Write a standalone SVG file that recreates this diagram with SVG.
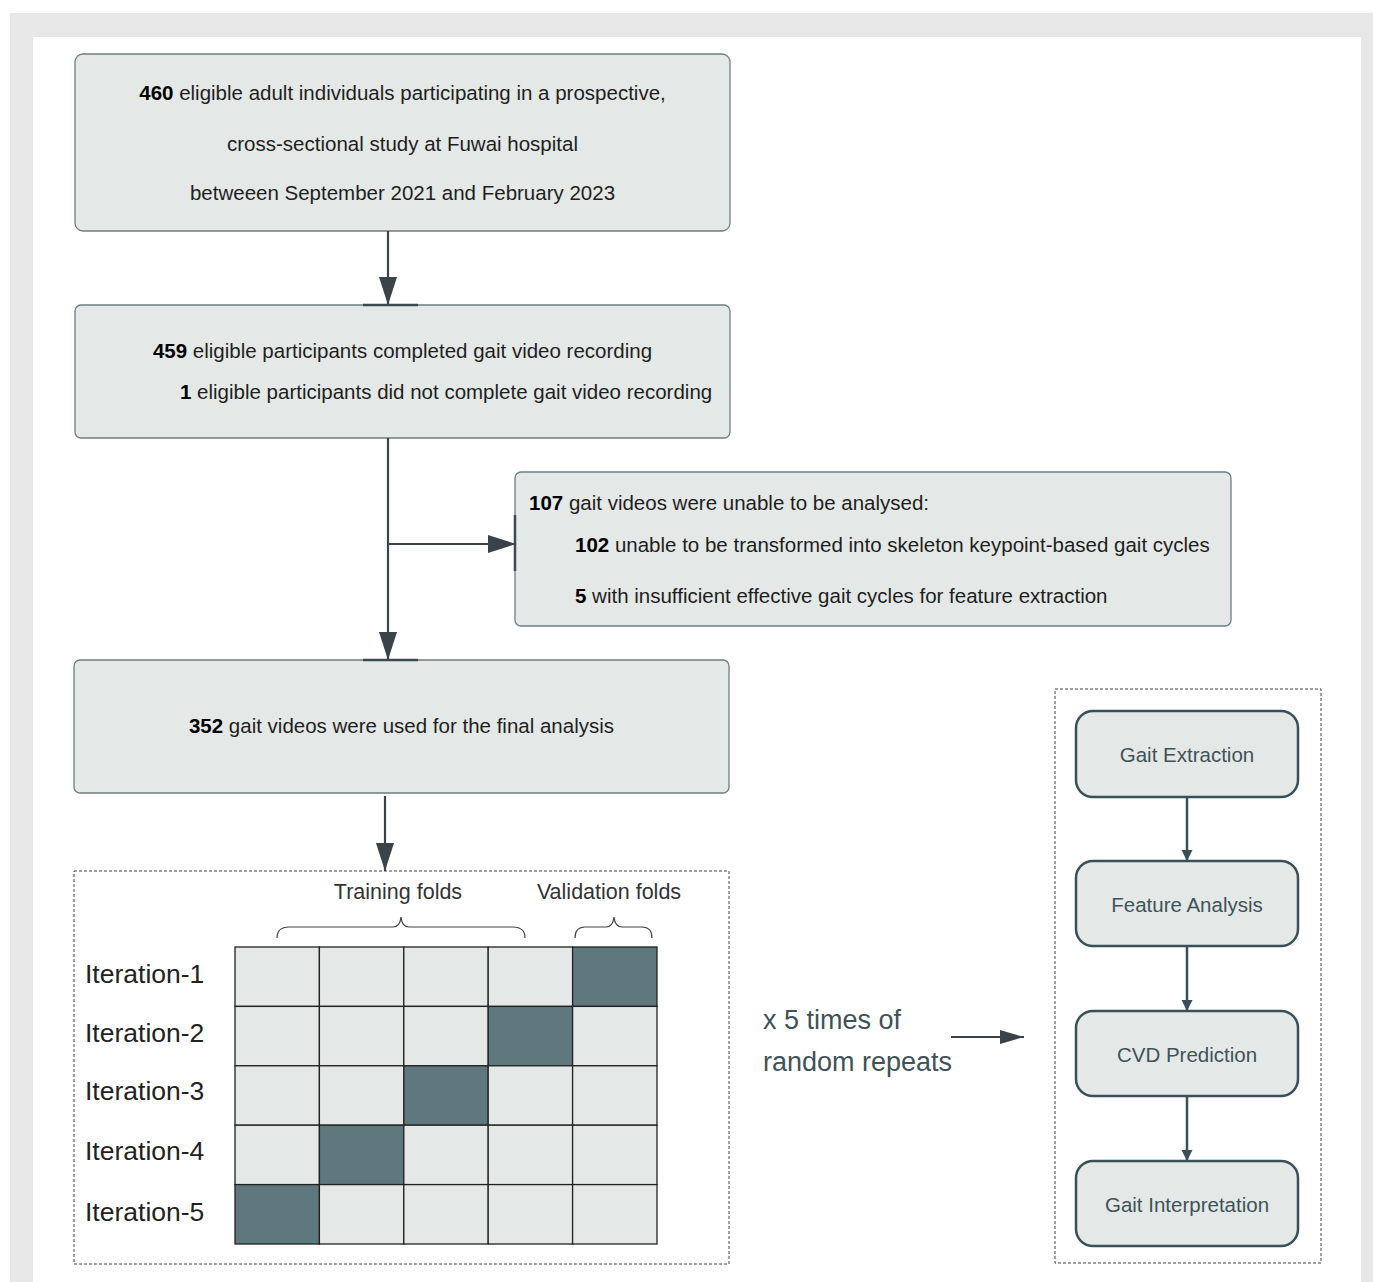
<svg xmlns="http://www.w3.org/2000/svg" width="1373" height="1282" viewBox="0 0 1373 1282">
<defs>
<style>
.box{fill:#e4e9e7;stroke:#6e7e82;stroke-width:1.3}
.t{font-family:"Liberation Sans",Arial,sans-serif;font-size:20.5px;fill:#1e1e1e}
.b{font-weight:bold;fill:#000}
.conn{stroke:#3a424a;stroke-width:2.2;fill:none}
.seg{stroke:#3a4a52;stroke-width:2.5}
.dash{fill:none;stroke:#444;stroke-width:1;stroke-dasharray:3 2}
.cell{fill:#e4e9e7;stroke:#222;stroke-width:1.3}
.dk{fill:#5f787d}
.it{font-family:"Liberation Sans",Arial,sans-serif;font-size:26.5px;fill:#222}
.fl{font-family:"Liberation Sans",Arial,sans-serif;font-size:21.5px;fill:#333}
.rep{font-family:"Liberation Sans",Arial,sans-serif;font-size:27px;fill:#3f5258}
.node{fill:#e4e9e7;stroke:#3a5059;stroke-width:2.5}
.nt{font-family:"Liberation Sans",Arial,sans-serif;font-size:20.5px;fill:#3f5258;text-anchor:middle}
.brace{fill:none;stroke:#444;stroke-width:1.2}
</style>
<marker id="big" markerUnits="userSpaceOnUse" markerWidth="30" markerHeight="20" refX="28" refY="9" orient="auto"><path d="M0,0 L28,9 L0,18 Z" fill="#3a424a"/></marker>
<marker id="med" markerUnits="userSpaceOnUse" markerWidth="26" markerHeight="16" refX="24" refY="7" orient="auto"><path d="M0,0 L24,7 L0,14 Z" fill="#3a424a"/></marker>
<marker id="sm" markerUnits="userSpaceOnUse" markerWidth="12" markerHeight="12" refX="11" refY="5.5" orient="auto"><path d="M0,0 L11,5.5 L0,11 Z" fill="#3a5059"/></marker>
</defs>
<rect x="0" y="0" width="1373" height="1282" fill="#fff"/>
<rect x="10" y="13" width="1363" height="1269" fill="#e6e7e6"/>
<rect x="33" y="37" width="1328" height="1245" fill="#fff"/>

<g id="n1">
<rect class="box" x="75" y="54" width="655" height="177" rx="8"/>
<text class="t" x="402.5" y="100" text-anchor="middle"><tspan class="b">460</tspan> eligible adult individuals participating in a prospective,</text>
<text class="t" x="402.5" y="151" text-anchor="middle">cross-sectional study at Fuwai hospital</text>
<text class="t" x="402.5" y="200" text-anchor="middle">betweeen September 2021 and February 2023</text>
</g>
<g id="n2">
<rect class="box" x="75" y="305" width="655" height="133" rx="6"/>
<text class="t" x="402.5" y="358" text-anchor="middle"><tspan class="b">459</tspan> eligible participants completed gait video recording</text>
<text class="t" x="180" y="399"><tspan class="b">1</tspan> eligible participants did not complete gait video recording</text>
</g>
<g id="n3">
<rect class="box" x="515" y="472" width="716" height="154" rx="6"/>
<text class="t" x="529" y="510"><tspan class="b">107</tspan> gait videos were unable to be analysed:</text>
<text class="t" x="575" y="552"><tspan class="b">102</tspan> unable to be transformed into skeleton keypoint-based gait cycles</text>
<text class="t" x="575" y="603"><tspan class="b">5</tspan> with insufficient effective gait cycles for feature extraction</text>
</g>
<g id="n4">
<rect class="box" x="74" y="660" width="655" height="133" rx="6"/>
<text class="t" x="401.5" y="733" text-anchor="middle"><tspan class="b">352</tspan> gait videos were used for the final analysis</text>
</g>

<g id="cv">
<rect class="dash" x="74" y="871" width="655" height="393"/>
<text class="fl" x="398" y="899" text-anchor="middle">Training folds</text>
<text class="fl" x="609" y="899" text-anchor="middle">Validation folds</text>
<path class="brace" d="M277,938 Q277,927 289,927 L393,927 Q400,927 401,917 Q402,927 409,927 L513,927 Q525,927 525,938"/>
<path class="brace" d="M575,938 Q575,927 585,927 L606,927 Q613,927 614,917 Q615,927 622,927 L642,927 Q652,927 652,938"/>
<g>
<rect class="cell" x="235" y="947" width="84.4" height="59.4"/><rect class="cell" x="319.4" y="947" width="84.4" height="59.4"/><rect class="cell" x="403.8" y="947" width="84.4" height="59.4"/><rect class="cell" x="488.2" y="947" width="84.4" height="59.4"/><rect class="cell dk" x="572.6" y="947" width="84.4" height="59.4"/>
<rect class="cell" x="235" y="1006.4" width="84.4" height="59.4"/><rect class="cell" x="319.4" y="1006.4" width="84.4" height="59.4"/><rect class="cell" x="403.8" y="1006.4" width="84.4" height="59.4"/><rect class="cell dk" x="488.2" y="1006.4" width="84.4" height="59.4"/><rect class="cell" x="572.6" y="1006.4" width="84.4" height="59.4"/>
<rect class="cell" x="235" y="1065.8" width="84.4" height="59.4"/><rect class="cell" x="319.4" y="1065.8" width="84.4" height="59.4"/><rect class="cell dk" x="403.8" y="1065.8" width="84.4" height="59.4"/><rect class="cell" x="488.2" y="1065.8" width="84.4" height="59.4"/><rect class="cell" x="572.6" y="1065.8" width="84.4" height="59.4"/>
<rect class="cell" x="235" y="1125.2" width="84.4" height="59.4"/><rect class="cell dk" x="319.4" y="1125.2" width="84.4" height="59.4"/><rect class="cell" x="403.8" y="1125.2" width="84.4" height="59.4"/><rect class="cell" x="488.2" y="1125.2" width="84.4" height="59.4"/><rect class="cell" x="572.6" y="1125.2" width="84.4" height="59.4"/>
<rect class="cell dk" x="235" y="1184.6" width="84.4" height="59.4"/><rect class="cell" x="319.4" y="1184.6" width="84.4" height="59.4"/><rect class="cell" x="403.8" y="1184.6" width="84.4" height="59.4"/><rect class="cell" x="488.2" y="1184.6" width="84.4" height="59.4"/><rect class="cell" x="572.6" y="1184.6" width="84.4" height="59.4"/>
</g>
<text class="it" x="85" y="983">Iteration-1</text>
<text class="it" x="85" y="1042">Iteration-2</text>
<text class="it" x="85" y="1100">Iteration-3</text>
<text class="it" x="85" y="1160">Iteration-4</text>
<text class="it" x="85" y="1221">Iteration-5</text>
</g>

<g id="repeat">
<text class="rep" x="763" y="1029">x 5 times of</text>
<text class="rep" x="763" y="1071">random repeats</text>
</g>

<g id="pipeline">
<rect class="dash" x="1055" y="689" width="266" height="574"/>
<g id="p1"><rect class="node" x="1076" y="711" width="222" height="86" rx="17"/><text class="nt" x="1187" y="762">Gait Extraction</text></g>
<g id="p2"><rect class="node" x="1076" y="861" width="222" height="85" rx="17"/><text class="nt" x="1187" y="912">Feature Analysis</text></g>
<g id="p3"><rect class="node" x="1076" y="1011" width="222" height="85" rx="17"/><text class="nt" x="1187" y="1062">CVD Prediction</text></g>
<g id="p4"><rect class="node" x="1076" y="1161" width="222" height="85" rx="17"/><text class="nt" x="1187" y="1212">Gait Interpretation</text></g>
</g>

<g id="connectors">
<line class="conn" x1="388" y1="231" x2="388" y2="305" marker-end="url(#big)"/>
<line class="seg" x1="363" y1="305" x2="418" y2="305"/>
<line class="conn" x1="388" y1="438" x2="388" y2="660" marker-end="url(#big)"/>
<line class="seg" x1="363" y1="660" x2="418" y2="660"/>
<line class="conn" x1="388" y1="544" x2="516" y2="544" marker-end="url(#big)"/>
<line class="seg" x1="515" y1="515" x2="515" y2="571"/>
<line class="conn" x1="385" y1="796" x2="385" y2="871" marker-end="url(#big)"/>
<line class="conn" x1="951" y1="1037" x2="1024" y2="1037" marker-end="url(#med)"/>
<line class="conn" style="stroke:#3a5059;stroke-width:2.5" x1="1187" y1="797" x2="1187" y2="861" marker-end="url(#sm)"/>
<line class="conn" style="stroke:#3a5059;stroke-width:2.5" x1="1187" y1="946" x2="1187" y2="1011" marker-end="url(#sm)"/>
<line class="conn" style="stroke:#3a5059;stroke-width:2.5" x1="1187" y1="1096" x2="1187" y2="1161" marker-end="url(#sm)"/>
</g>
</svg>
